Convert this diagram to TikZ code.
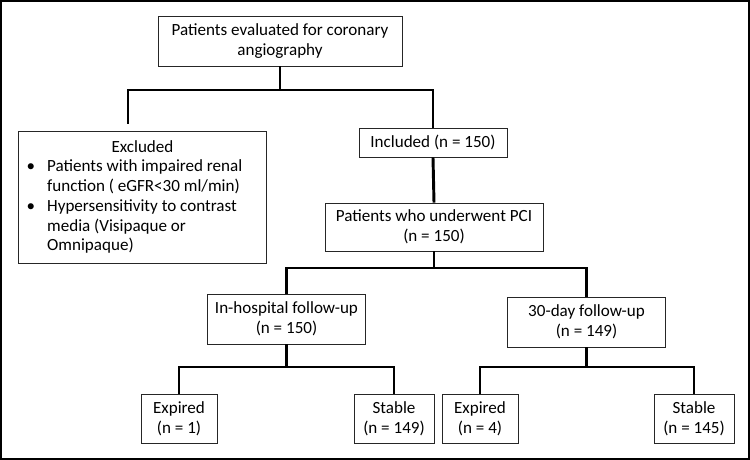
\documentclass[tikz,border=0pt]{standalone}
\usepackage{fontspec}
\setmainfont{Carlito}
\usepackage{tikz}
\usetikzlibrary{positioning, calc}
\tikzset{
	box/.style ={rectangle, draw=black!85, line width=0.6pt, fill=white, align=center, inner sep=2pt, font=\fontsize{12.8}{14.8}\selectfont},
	link/.style={line width=2.2pt, black},
	frame/.style={line width=1.5pt, black},
}

\begin{document}
\begin{tikzpicture}[x=0.75pt, y=-0.75pt]
	\useasboundingbox (0,0) rectangle (750,460);
	\draw[frame] (1,1) rectangle (749,459);
	% boxes
	\node[box, minimum width=183pt, minimum height=37.5pt] (top) at (280,41) {Patients evaluated for coronary\\ angiography};
	\node[box, minimum width=186pt, minimum height=98.5pt, inner xsep=4pt] (excl) at (142.5,197.5) {%
		\begin{tabular}{@{}p{17.5pt}@{}l@{}}
			\multicolumn{2}{@{}c@{}}{\makebox[178pt]{Excluded}}\\
			\hspace{2pt}\textbullet & Patients with impaired renal\\
			& function ( eGFR<30 ml/min)\\
			\hspace{2pt}\textbullet & Hypersensitivity to contrast\\
			& media (Visipaque or\\
			& Omnipaque)
		\end{tabular}};
	\node[box, minimum width=111pt, minimum height=21.75pt] (incl) at (433,142.5) {Included (n = 150)};
	\node[box, minimum width=163.5pt, minimum height=36pt] (pci) at (434,227) {Patients who underwent PCI\\ (n = 150)};
	\node[box, minimum width=119pt, minimum height=37.5pt] (inh) at (286.5,319) {In-hospital follow-up\\ (n = 150)};
	\node[box, minimum width=119pt, minimum height=37.5pt] (day) at (586.5,322) {30-day follow-up\\ (n = 149)};
	\node[box, minimum width=57pt, minimum height=36.75pt] (expA) at (179,418.5) {Expired\\ (n = 1)};
	\node[box, minimum width=60pt, minimum height=36.75pt] (stA) at (394,418.5) {Stable\\ (n = 149)};
	\node[box, minimum width=57pt, minimum height=36.75pt] (expB) at (480,418.5) {Expired\\ (n = 4)};
	\node[box, minimum width=60pt, minimum height=36.75pt] (stB) at (694,418.5) {Stable\\ (n = 145)};
	% tree lines
	\coordinate (topJ) at (280,90);
	\coordinate (exclTop) at (128,124);
	\coordinate (pciJ) at (434,268);
	\coordinate (inhJ) at (286.5,367);
	\coordinate (dayJ) at (586.5,367);
	\draw[link] (top.south) -- (topJ);
	\draw[link] (exclTop) |- (topJ) -| (incl.north);
	\draw[link] (incl.south) -- (pci.north);
	\draw[link] (pci.south) -- (pciJ);
	\draw[link] (inh.north) |- (pciJ) -| (day.north);
	\draw[link] (inh.south) -- (inhJ);
	\draw[link] (expA.north) |- (inhJ) -| (stA.north);
	\draw[link] (day.south) -- (dayJ);
	\draw[link] (expB.north) |- (dayJ) -| (stB.north);
\end{tikzpicture}
\end{document}
